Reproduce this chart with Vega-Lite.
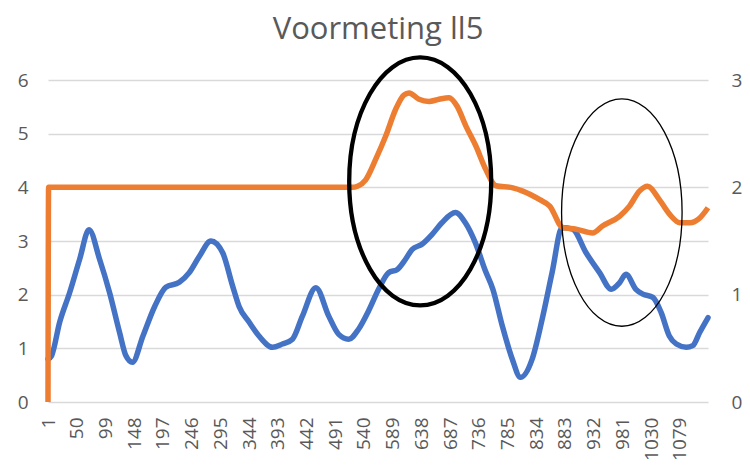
{
  "$schema": "https://vega.github.io/schema/vega-lite/v6.json",
  "width": 660,
  "height": 322,
  "autosize": {"type": "none"},
  "padding": {"left": 48, "top": 80, "right": 42, "bottom": 74},
  "background": "white",
  "config": {
    "view": {"stroke": null},
    "font": "Open Sans",
    "axis": {"labelFont": "Open Sans", "labelFontSize": 19, "labelColor": "#595959", "domain": false, "ticks": false, "title": null}
  },
  "title": {"text": "Voormeting ll5", "font": "Open Sans", "fontSize": 31, "fontWeight": "normal", "color": "#595959", "anchor": "middle", "offset": 3},
  "datasets": {
    "blue": [
      {"i": 1, "v": 0.8}, {"i": 7, "v": 0.86}, {"i": 21, "v": 1.49}, {"i": 38, "v": 2.04}, {"i": 55, "v": 2.66},
      {"i": 71, "v": 3.21}, {"i": 89, "v": 2.66}, {"i": 106, "v": 2.04}, {"i": 123, "v": 1.3}, {"i": 134, "v": 0.86},
      {"i": 145, "v": 0.74}, {"i": 163, "v": 1.23}, {"i": 183, "v": 1.78}, {"i": 202, "v": 2.14}, {"i": 225, "v": 2.23},
      {"i": 242, "v": 2.41}, {"i": 259, "v": 2.71}, {"i": 279, "v": 3.0}, {"i": 299, "v": 2.78}, {"i": 316, "v": 2.16},
      {"i": 327, "v": 1.78}, {"i": 344, "v": 1.49}, {"i": 361, "v": 1.23}, {"i": 384, "v": 1.02}, {"i": 401, "v": 1.08},
      {"i": 418, "v": 1.17}, {"i": 435, "v": 1.6}, {"i": 458, "v": 2.13}, {"i": 480, "v": 1.6}, {"i": 497, "v": 1.26},
      {"i": 514, "v": 1.17}, {"i": 531, "v": 1.36}, {"i": 548, "v": 1.7}, {"i": 565, "v": 2.1}, {"i": 582, "v": 2.41},
      {"i": 597, "v": 2.47}, {"i": 611, "v": 2.66}, {"i": 622, "v": 2.84}, {"i": 639, "v": 2.94}, {"i": 656, "v": 3.12},
      {"i": 673, "v": 3.34}, {"i": 696, "v": 3.53}, {"i": 713, "v": 3.34}, {"i": 730, "v": 2.97}, {"i": 747, "v": 2.45},
      {"i": 760, "v": 2.1}, {"i": 776, "v": 1.42}, {"i": 793, "v": 0.8}, {"i": 807, "v": 0.46}, {"i": 827, "v": 0.8},
      {"i": 844, "v": 1.54}, {"i": 861, "v": 2.41}, {"i": 878, "v": 3.25}, {"i": 896, "v": 3.22}, {"i": 919, "v": 2.78},
      {"i": 942, "v": 2.41}, {"i": 962, "v": 2.1}, {"i": 976, "v": 2.22}, {"i": 987, "v": 2.38}, {"i": 1004, "v": 2.1},
      {"i": 1016, "v": 2.01}, {"i": 1033, "v": 1.95}, {"i": 1047, "v": 1.67}, {"i": 1061, "v": 1.23}, {"i": 1073, "v": 1.08},
      {"i": 1090, "v": 1.02}, {"i": 1101, "v": 1.05}, {"i": 1113, "v": 1.3}, {"i": 1127, "v": 1.57}
    ],
    "orange": [
      {"i": 1, "v": 0}, {"i": 2, "v": 2.0}, {"i": 300, "v": 2.0}, {"i": 520, "v": 2.0}, {"i": 529, "v": 2.01},
      {"i": 543, "v": 2.07}, {"i": 560, "v": 2.26}, {"i": 577, "v": 2.475}, {"i": 594, "v": 2.725}, {"i": 608, "v": 2.86},
      {"i": 617, "v": 2.88}, {"i": 634, "v": 2.82}, {"i": 651, "v": 2.8}, {"i": 668, "v": 2.82}, {"i": 685, "v": 2.835},
      {"i": 699, "v": 2.755}, {"i": 714, "v": 2.57}, {"i": 731, "v": 2.385}, {"i": 748, "v": 2.165}, {"i": 765, "v": 2.015},
      {"i": 794, "v": 1.995}, {"i": 811, "v": 1.965}, {"i": 840, "v": 1.885}, {"i": 857, "v": 1.825}, {"i": 879, "v": 1.625},
      {"i": 902, "v": 1.61}, {"i": 930, "v": 1.575}, {"i": 947, "v": 1.64}, {"i": 976, "v": 1.73}, {"i": 993, "v": 1.825},
      {"i": 1010, "v": 1.965}, {"i": 1024, "v": 2.01}, {"i": 1044, "v": 1.885}, {"i": 1062, "v": 1.745}, {"i": 1079, "v": 1.67},
      {"i": 1096, "v": 1.67}, {"i": 1113, "v": 1.715}, {"i": 1127, "v": 1.81}
    ],
    "ellipses": [
      {"i": 636, "v": 4.11, "kind": "thick"},
      {"i": 980, "v": 3.53, "kind": "thin"}
    ]
  },
  "encoding": {
    "x": {
      "field": "i", "type": "quantitative",
      "scale": {"domain": [1, 1127], "nice": false, "zero": false},
      "axis": {
        "values": [1, 50, 99, 148, 197, 246, 295, 344, 393, 442, 491, 540, 589, 638, 687, 736, 785, 834, 883, 932, 981, 1030, 1079],
        "format": "d",
        "labelAngle": -90, "labelPadding": 15, "grid": false, "labelOverlap": false, "labelFlush": false
      }
    }
  },
  "layer": [
    {
      "data": {"name": "blue"},
      "mark": {"type": "line", "color": "#4472C4", "strokeWidth": 5.5, "interpolate": "monotone", "strokeCap": "round", "strokeJoin": "round"},
      "encoding": {
        "y": {"field": "v", "type": "quantitative", "scale": {"domain": [0, 6], "nice": false},
          "axis": {"orient": "left", "values": [0, 1, 2, 3, 4, 5, 6], "grid": true, "gridColor": "#d9d9d9", "gridWidth": 1.3, "labelPadding": 20}}
      }
    },
    {
      "data": {"name": "orange"},
      "mark": {"type": "line", "color": "#ED7D31", "strokeWidth": 5.5, "interpolate": "monotone", "strokeJoin": "round"},
      "encoding": {
        "y": {"field": "v", "type": "quantitative", "scale": {"domain": [0, 3], "nice": false},
          "axis": {"orient": "right", "values": [0, 1, 2, 3], "grid": false, "labelPadding": 23}}
      }
    },
    {
      "data": {"name": "ellipses"},
      "transform": [{"filter": "datum.kind === 'thick'"}],
      "mark": {"type": "point", "filled": false, "stroke": "black", "strokeWidth": 4.3, "opacity": 1, "size": 61504,
        "shape": "M0,-1A0.5726,1,0,1,1,0,1A0.5726,1,0,1,1,0,-1Z"},
      "encoding": {
        "y": {"field": "v", "type": "quantitative", "scale": {"domain": [0, 6], "nice": false}, "axis": null}
      }
    },
    {
      "data": {"name": "ellipses"},
      "transform": [{"filter": "datum.kind === 'thin'"}],
      "mark": {"type": "point", "filled": false, "stroke": "black", "strokeWidth": 1.3, "opacity": 1, "size": 51711,
        "shape": "M0,-1A0.53,1,0,1,1,0,1A0.53,1,0,1,1,0,-1Z"},
      "encoding": {
        "y": {"field": "v", "type": "quantitative", "scale": {"domain": [0, 6], "nice": false}, "axis": null}
      }
    }
  ],
  "resolve": {"scale": {"y": "independent"}}
}
